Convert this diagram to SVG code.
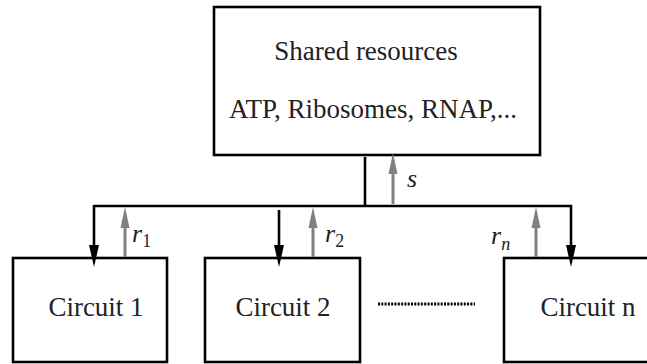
<svg xmlns="http://www.w3.org/2000/svg" width="647" height="364" viewBox="0 0 647 364">
<style>
.box{fill:#fff;stroke:#000;stroke-width:2.6}
text{font-family:"Liberation Serif","Times New Roman",serif;fill:#222}
.t{font-size:27px;text-anchor:middle}
.lab{font-size:26px;font-style:italic}
.sub{font-size:18px;font-style:normal}
.subi{font-size:18px}
.bk{stroke:#000;stroke-width:2.6;fill:none}
.gr{stroke:#808080;stroke-width:3;fill:none}
.hb{fill:#000}
.hg{fill:#808080}
</style>
<g id="shared">
<rect class="box" x="214" y="7" width="326" height="148"/>
<text class="t" x="366" y="60">Shared resources</text>
<text class="t" x="373" y="118">ATP, Ribosomes, RNAP,...</text>
</g>
<g id="circuit1">
<rect class="box" x="13" y="258" width="154" height="104"/>
<text class="t" x="96" y="316">Circuit 1</text>
</g>
<g id="circuit2">
<rect class="box" x="205" y="258" width="155" height="104"/>
<text class="t" x="283" y="316">Circuit 2</text>
</g>
<g id="circuitn">
<rect class="box" x="504" y="258" width="155" height="104"/>
<text class="t" x="588" y="316">Circuit n</text>
</g>
<g id="connectors">
<path class="bk" d="M365,157 V206"/>
<path class="bk" d="M94,206 H572"/>
<path class="bk" d="M94,205 V250"/><path class="hb" d="M89,245 L99,245 L94,267 Z"/>
<path class="bk" d="M279,210 V250"/><path class="hb" d="M274,245 L284,245 L279,267 Z"/>
<path class="bk" d="M571,205 V250"/><path class="hb" d="M566,245 L576,245 L571,267 Z"/>
<path class="gr" d="M393,204 V170"/><path class="hg" d="M388.5,174 L397.5,174 L393,153 Z"/>
<path class="gr" d="M125,257 V222"/><path class="hg" d="M120.5,228 L129.5,228 L125,207 Z"/>
<path class="gr" d="M313,257 V222"/><path class="hg" d="M308.5,228 L317.5,228 L313,207 Z"/>
<path class="gr" d="M536,257 V222"/><path class="hg" d="M531.5,228 L540.5,228 L536,207 Z"/>
<path d="M378,304 H475" stroke="#000" stroke-width="3" stroke-dasharray="2,1.3"/>
<text class="lab" x="407" y="187">s</text>
<text class="lab" x="132" y="242">r<tspan class="sub" dy="5">1</tspan></text>
<text class="lab" x="325" y="242">r<tspan class="sub" dy="5">2</tspan></text>
<text class="lab" x="491" y="244">r<tspan class="subi" dy="6">n</tspan></text>
</g>
</svg>
